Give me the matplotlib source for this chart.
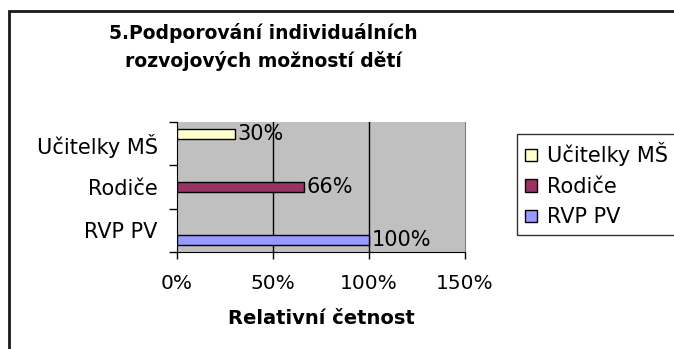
import matplotlib
matplotlib.use("Agg")
import matplotlib.pyplot as plt
from matplotlib.patches import Rectangle, Patch

# data: one series per respondent group, bottom to top
categories = ["RVP PV", "Rodiče", "Učitelky MŠ"]
values = [100, 66, 30]
colors = ["#9999FF", "#993366", "#FFFFCC"]
xticks = [0, 50, 100, 150]

W, H = 674, 349
fig = plt.figure(figsize=(W / 100, H / 100), dpi=100)
fig.patch.set_facecolor("white")

# outer chart frame (runs off the right and bottom edges)
fig.patches.append(Rectangle((8.5 / W, -0.2), 1.5, 1.2 - 10.5 / H,
                             transform=fig.transFigure, fill=False,
                             edgecolor="#1a1a1a", linewidth=2, clip_on=False))

ax = fig.add_axes([177 / W, 97 / H, 288 / W, 130 / H])
ax.set_facecolor("#C0C0C0")

bar_h = 0.222
for i, (cat, v, c) in enumerate(zip(categories, values, colors)):
    y = i + (i - 1) * bar_h
    ax.barh(y, v, height=bar_h, color=c, edgecolor="black", linewidth=1, zorder=3)
    ax.annotate(f"{v}%", (v, y), xytext=(2, 0), textcoords="offset points",
                va="center", ha="left", fontsize=15, zorder=4)

ax.set_xlim(0, 150)
ax.set_ylim(-0.5, len(categories) - 0.5)
ax.set_xticks(xticks)
ax.set_xticklabels([f"{t}%" for t in xticks], fontsize=14.5)
ax.tick_params(axis="x", length=5, width=1, pad=11, color="black")

ax.set_yticks([-0.5, 0.5, 1.5, 2.5])
ax.set_yticklabels([])
ax.set_yticks(range(len(categories)), minor=True)
ax.set_yticklabels(categories, minor=True, fontsize=15)
ax.tick_params(axis="y", which="major", length=6, width=1, color="black")
ax.tick_params(axis="y", which="minor", length=0, pad=14)

for x in xticks[1:-1]:
    ax.axvline(x, color="black", linewidth=1, zorder=2)

ax.spines["left"].set_color("black")
ax.spines["bottom"].set_color("black")
ax.spines["top"].set_visible(False)
ax.spines["right"].set_color("#808080")

ax.set_xlabel("Relativní četnost", fontsize=14, fontweight="bold", va="center")
ax.xaxis.set_label_coords(0.5, -(319 - 252) / 130)

fig.text(263 / W, 1 - 47 / H,
         "5.Podporování individuálních\nrozvojových možností dětí",
         ha="center", va="center", fontsize=13.5, fontweight="bold", linespacing=1.55)

handles = [Patch(facecolor=c, edgecolor="black", linewidth=1) for c in colors[::-1]]
leg = fig.legend(handles, categories[::-1], loc="upper left",
                 bbox_to_anchor=(517 / W, 1 - 134 / H), fontsize=15,
                 frameon=True, fancybox=False, shadow=False,
                 borderpad=0.4, borderaxespad=0, labelspacing=0.5,
                 handlelength=0.55, handleheight=0.55, handletextpad=0.5)
leg.get_frame().set_edgecolor("black")
leg.get_frame().set_linewidth(1)

fig.savefig("out.png", dpi=100)
